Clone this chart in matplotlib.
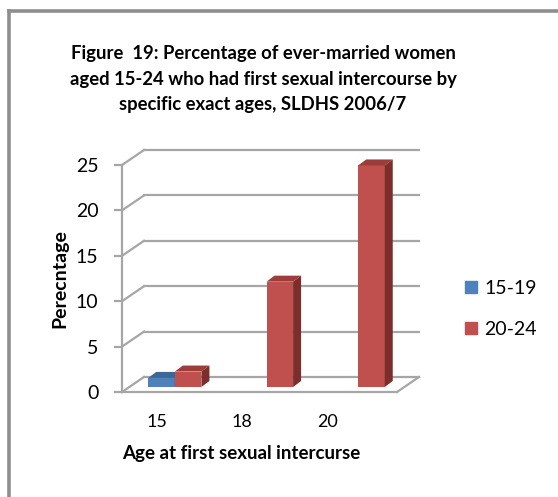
import numpy as np
import matplotlib
matplotlib.use('Agg')
from matplotlib import pyplot as plt
from matplotlib.patches import Polygon, Patch
from matplotlib.lines import Line2D

# data
ages = ['15', '18', '20']
groups = ['15-19', '20-24']
pct_15_19 = [1.0, np.nan, np.nan]
pct_20_24 = [1.7, 11.6, 24.4]
yticks = [0, 5, 10, 15, 20, 25]

title = ('Figure  19: Percentage of ever-married women\n'
         'aged 15-24 who had first sexual intercourse by\n'
         'specific exact ages, SLDHS 2006/7')

plt.rcParams['font.family'] = ['Lato', 'DejaVu Sans']

W, H = 558, 497
fig = plt.figure(figsize=(W / 100, H / 100), dpi=100)

# outer frame (left + top only)
frame_c = '#8e8e8e'
fig.add_artist(Line2D([9 / W, 9 / W], [0, 1 - 10.5 / H], color=frame_c, lw=2.6))
fig.add_artist(Line2D([9 / W, 1], [1 - 10.5 / H, 1 - 10.5 / H], color=frame_c, lw=2.6))

fig.text(263 / W, 1 - 79 / H, title, ha='center', va='center',
         fontsize=13.3, fontweight='bold', linespacing=1.62)

# front plane of the 3d box
ax = fig.add_axes([122 / W, 105 / H, 275 / W, 227 / H])
ax.set_xlim(0, 3)
ax.set_ylim(0, 25)
px = 3 / 275
py = 25 / 227

grid_c = '#a6a6a6'
DX, DY = 22 * px, 15 * py
for v in yticks:
    ax.plot([DX, 3 + DX], [v + DY, v + DY], color=grid_c, lw=1.6, clip_on=False, zorder=1)
    ax.plot([0, DX], [v, v + DY], color=grid_c, lw=1.6, clip_on=False, zorder=1)
ax.plot([3, 3 + DX], [0, DY], color=grid_c, lw=1.6, clip_on=False, zorder=1)

# 3d bars
bx, by = 7 * px, 5 * py      # bar offset into depth
ddx, ddy = 8 * px, 6 * py    # bar depth
w = 0.29
colours = [('#4f81bd', '#3b6899', '#2f5480'),
           ('#c0504d', '#9c3d3a', '#7b2e2c')]
x = np.arange(len(ages))
for k, vals in enumerate([pct_15_19, pct_20_24]):
    front, top, side = colours[k]
    x0 = x + 0.5 - w + k * w + bx
    ax.bar(x0, vals, width=w, bottom=by, align='edge', color=front,
           edgecolor='none', zorder=3, clip_on=False)
    for xi, h in zip(x0, vals):
        if np.isnan(h):
            continue
        t = by + h
        ax.add_patch(Polygon([(xi, t), (xi + w, t), (xi + w + ddx, t + ddy), (xi + ddx, t + ddy)],
                             closed=True, color=top, lw=0, zorder=3, clip_on=False))
        ax.add_patch(Polygon([(xi + w, by), (xi + w + ddx, by + ddy), (xi + w + ddx, t + ddy), (xi + w, t)],
                             closed=True, color=side, lw=0, zorder=3, clip_on=False))

for s in ['top', 'right']:
    ax.spines[s].set_visible(False)
for s in ['left', 'bottom']:
    ax.spines[s].set_color(grid_c)
    ax.spines[s].set_linewidth(1.6)
ax.patch.set_visible(False)

ax.set_yticks(yticks)
ax.tick_params(axis='y', length=6, width=1.6, color=grid_c, pad=11, labelsize=14)
ax.set_xticks(x * 0.93 + 0.38)
ax.set_xticklabels(ages)
ax.tick_params(axis='x', length=0, pad=16, labelsize=13)

ax.set_ylabel('Perecntage', fontsize=14, fontweight='bold', labelpad=5)
fig.text(241 / W, 1 - 454 / H, 'Age at first sexual intercurse', ha='center', va='center',
         fontsize=13.5, fontweight='bold')

handles = [Patch(color=colours[0][0]), Patch(color=colours[1][0])]
fig.legend(handles, groups, loc='center left', bbox_to_anchor=(465 / W, 1 - 309 / H),
           frameon=False, fontsize=14, handlelength=0.6, handleheight=0.6,
           handletextpad=0.4, labelspacing=1.25, borderpad=0, borderaxespad=0)

fig.savefig('out.png', dpi=100)
